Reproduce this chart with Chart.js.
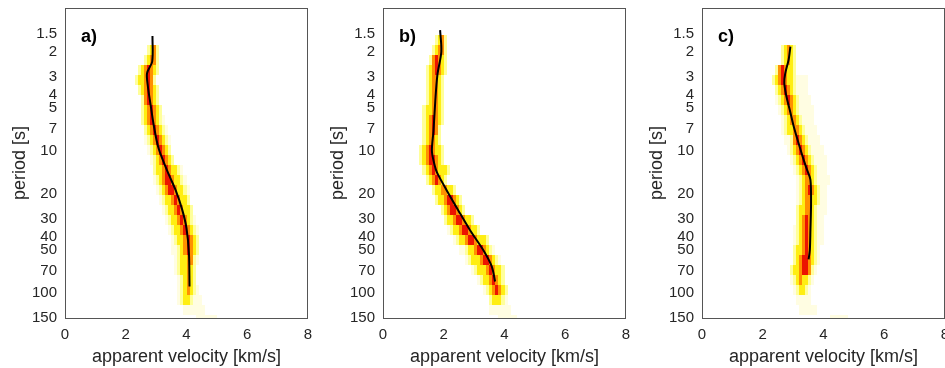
<!DOCTYPE html>
<html><head><meta charset="utf-8">
<script src="https://cdn.jsdelivr.net/npm/chart.js@4.4.0/dist/chart.umd.min.js"></script>
<style>
html,body{margin:0;padding:0;background:#fff;overflow:hidden;width:945px;height:368px;}
.p{position:absolute;top:0;width:318px;height:368px;}
</style></head><body>
<div class="p" style="left:0"><canvas id="ca" width="318" height="368"></canvas></div>
<div class="p" style="left:318px"><canvas id="cb" width="318" height="368"></canvas></div>
<div class="p" style="left:637px"><canvas id="cc" width="318" height="368"></canvas></div>
<script>
const velocityTicks=[0,2,4,6,8];
const periodTicks=[1.5,2,3,4,5,7,10,20,30,40,50,70,100,150];
// period bin edges of the density rows (s)
const rowEdges=[1.52,1.79,2.11,2.48,2.92,3.43,4.03,4.74,5.58,6.56,7.72,9.08,10.7,12.6,14.8,17.4,20.4,24.0,28.2,33.2,39.1,45.9,54.0,63.5,74.7,87.9,103,122,143,150];

// panel a: velocity ranges (km/s) per period row
const haloA=[null,[2.8,3.05],[2.7,3.05],[2.4,3.0],[2.35,2.95],[2.4,3.0],[2.45,3.1],[2.45,3.2],[2.48,3.31],[2.58,3.4],[2.64,3.47],[2.71,3.54],[2.81,3.64],[2.88,3.87],[2.91,3.97],[3.01,4.07],[3.07,4.13],[3.21,4.2],[3.31,4.3],[3.4,4.36],[3.47,4.4],[3.54,4.4],[3.6,4.36],[3.64,4.33],[3.67,4.3],[3.7,4.36],[3.74,4.46],[3.87,4.63],[4.3,4.96]];
const bandA=[null,[2.8,3.0],[2.74,3.0],[2.45,2.95],[2.41,2.92],[2.48,2.98],[2.55,3.04],[2.58,3.14],[2.61,3.14],[2.71,3.21],[2.81,3.31],[2.88,3.4],[2.98,3.54],[3.04,3.67],[3.07,3.8],[3.21,3.87],[3.31,3.97],[3.4,4.07],[3.54,4.13],[3.64,4.23],[3.74,4.26],[3.8,4.26],[3.8,4.23],[3.83,4.23],[3.87,4.2],[3.9,4.17],[3.93,4.13],null,null];
const coreA=[null,[2.9,3.0],[2.8,2.95],[2.55,2.9],[2.55,2.88],[2.58,2.9],[2.64,2.94],[2.68,3.0],[2.74,3.01],[2.81,3.07],[2.91,3.21],[3.01,3.27],[3.07,3.37],[3.21,3.54],[3.21,3.64],[3.31,3.74],[3.47,3.83],[3.57,3.93],[3.7,4.03],[3.8,4.1],[3.9,4.17],[3.93,4.2],[3.97,4.17],[3.97,4.13],[4.0,4.13],[4.0,4.1],null,null,null];
const linePeriodA=[1.55,2.35,2.84,3.52,4.61,6.56,9.56,14.7,18.8,26,35,52.5,90];
const lineVelA=[2.88,2.87,2.70,2.73,2.81,2.92,3.08,3.42,3.64,3.86,4.0,4.08,4.10];

// panel b
const haloB=[[1.8,2.05],[1.7,2.05],[1.5,2.05],[1.4,2.05],[1.4,2.0],[1.4,2.0],[1.4,1.97],[1.37,1.93],[1.37,1.93],[1.34,1.9],[1.3,1.87],[1.27,1.93],[1.27,2.0],[1.37,2.17],[1.47,2.1],[1.6,2.36],[1.7,2.56],[1.85,2.7],[2.0,2.95],[2.1,3.2],[2.3,3.45],[2.5,3.65],[2.7,3.85],[2.9,3.95],[3.1,4.0],[3.3,4.05],[3.45,4.08],[3.52,4.18],[3.76,4.41]];
const bandB=[[1.8,2.0],[1.74,2.0],[1.57,2.0],[1.47,1.97],[1.47,1.93],[1.47,1.93],[1.47,1.9],[1.44,1.87],[1.44,1.87],[1.4,1.83],[1.37,1.8],[1.34,1.87],[1.34,1.93],[1.44,2.1],[1.54,2.03],[1.7,2.26],[1.8,2.46],[1.97,2.63],[2.13,2.86],[2.3,3.09],[2.53,3.36],[2.76,3.52],[2.93,3.69],[3.09,3.85],[3.29,3.92],[3.45,3.95],[3.59,3.85],null,null];
const coreB=[[1.87,1.97],[1.8,1.97],[1.64,1.93],[1.6,1.87],[1.57,1.8],[1.6,1.8],[1.6,1.77],[1.57,1.77],[1.54,1.77],[1.5,1.77],[1.47,1.7],[1.44,1.7],[1.4,1.77],[1.5,1.8],[1.64,1.87],[1.87,2.13],[1.97,2.36],[2.13,2.53],[2.3,2.69],[2.53,2.93],[2.69,3.12],[2.96,3.36],[3.19,3.59],[3.36,3.69],[3.45,3.79],[3.59,3.85],null,null,null];
const linePeriodB=[1.41,2.0,2.92,4.49,7.32,10,12.6,14.2,18.8,26,36,49.8,65,83];
const lineVelB=[1.88,1.92,1.79,1.72,1.66,1.61,1.70,1.78,2.09,2.47,2.86,3.30,3.58,3.69];

// panel c
const haloC=[null,[2.74,3.0],[2.6,3.05],[2.4,3.1],[2.35,3.46],[2.35,3.5],[2.35,3.57],[2.45,3.67],[2.55,3.72],[2.6,3.79],[2.7,3.9],[2.75,4.0],[2.85,4.07],[2.95,4.12],[3.13,4.18],[3.13,4.12],[3.07,4.12],[3.07,4.05],[3.05,4.0],[3.01,4.0],[3.0,3.95],[2.98,3.9],[2.95,3.85],[2.9,3.8],[2.91,3.67],[3.01,3.64],[3.07,3.57],[3.24,3.8],[4.23,4.79]];
const bandC=[null,[2.74,2.98],[2.68,2.98],[2.48,2.98],[2.41,2.98],[2.48,3.01],[2.58,3.07],[2.68,3.14],[2.81,3.24],[2.84,3.31],[2.98,3.4],[3.01,3.5],[3.14,3.57],[3.17,3.67],[3.31,3.74],[3.31,3.8],[3.31,3.8],[3.24,3.74],[3.24,3.74],[3.17,3.74],[3.17,3.74],[3.14,3.67],[3.07,3.67],[3.01,3.64],[3.14,3.5],[3.17,3.4],null,null,null];
const coreC=[null,[2.81,2.94],[2.81,2.94],[2.51,2.84],[2.48,2.78],[2.58,2.91],[2.68,2.98],[2.78,3.01],[2.91,3.14],[2.98,3.17],[3.01,3.31],[3.14,3.4],[3.24,3.47],[3.34,3.57],[3.4,3.64],[3.4,3.67],[3.4,3.64],[3.4,3.64],[3.34,3.64],[3.34,3.64],[3.31,3.64],[3.31,3.57],[3.21,3.64],[3.17,3.57],[3.17,3.34],null,null,null,null];
const linePeriodC=[1.84,2.29,2.84,3.33,4.14,5.15,6.73,8.83,11.6,13.6,16,23.3,36,49.8,57.9];
const lineVelC=[2.91,2.85,2.74,2.71,2.78,2.89,3.02,3.18,3.35,3.46,3.57,3.59,3.57,3.55,3.51];

const TXT='#262626';
const FONT='"Liberation Sans", Arial, Helvetica, sans-serif';

function makeChart(id,label,halo,band,core,lp,lv){
  const heat={id:'heat',beforeDatasetsDraw(chart){
    const {ctx,chartArea:a,scales:{x,y}}=chart;
    ctx.save();ctx.beginPath();ctx.rect(a.left,a.top,a.right-a.left,a.bottom-a.top);ctx.clip();
    // [rows, colour, widen (km/s), shrink (km/s)]
    const layers=[[halo,'#fffde2',0,0],[band,'#ffff9a',0.1,0],[band,'#ffee12',0,0],[core,'#ff9000',0,0],[core,'#ec1400',0,0.1],[core,'#b00000',0,0.2]];
    for(const [rows,col,grow,shrink] of layers){
      ctx.fillStyle=col;
      rows.forEach((r,i)=>{
        if(!r) return;
        let lo=Math.round(r[0]*10)/10;
        let hi=Math.max(Math.round(r[1]*10)/10,lo+0.1);
        lo=lo-grow+shrink; hi=hi+grow-shrink;
        if(hi-lo<0.09) return;
        const x0=Math.round(x.getPixelForValue(lo)),x1=Math.round(x.getPixelForValue(hi));
        const y0=Math.round(y.getPixelForValue(rowEdges[i])),y1=Math.round(y.getPixelForValue(rowEdges[i+1]));
        ctx.fillRect(x0,y0,x1-x0,y1-y0);
      });
    }
    ctx.restore();
  }};
  const frame={id:'frame',afterDraw(chart){
    const {ctx,chartArea:a}=chart;
    ctx.save();
    ctx.strokeStyle='#555';ctx.lineWidth=1;
    ctx.strokeRect(Math.round(a.left)+0.5,Math.round(a.top)+0.5,Math.round(a.right-a.left)-1,Math.round(a.bottom-a.top));
    ctx.fillStyle='#000';ctx.font='bold 18px '+FONT;ctx.textBaseline='alphabetic';ctx.textAlign='left';
    ctx.fillText(label,a.left+16,a.top+34);
    ctx.restore();
  }};
  return new Chart(document.getElementById(id),{
    type:'scatter',
    data:{datasets:[{data:lp.map((p,i)=>({x:lv[i],y:p})),showLine:true,borderColor:'#000',borderWidth:2,pointRadius:0,tension:0.3,fill:false}]},
    options:{
      responsive:false,animation:false,devicePixelRatio:1,
      layout:{padding:{top:8,right:10,left:0,bottom:0}},
      plugins:{legend:{display:false},tooltip:{enabled:false}},
      scales:{
        x:{type:'linear',min:0,max:8,
          afterBuildTicks:s=>{s.ticks=velocityTicks.map(v=>({value:v}));},
          afterFit:s=>{s.height=50;s.paddingLeft=0;s.paddingRight=0;},
          grid:{display:false,drawTicks:false},border:{display:false},
          ticks:{font:{size:15,family:FONT},color:TXT,padding:8,maxRotation:0},
          title:{display:true,text:'apparent velocity [km/s]',font:{size:18,family:FONT},color:TXT,padding:{top:0,bottom:0}}},
        y:{type:'logarithmic',reverse:true,min:0.985,max:150,
          afterBuildTicks:s=>{s.ticks=periodTicks.map(v=>({value:v}));},
          afterFit:s=>{s.width=65;s.paddingTop=0;s.paddingBottom=0;},
          grid:{display:false,drawTicks:false},border:{display:false},
          ticks:{font:{size:15,family:FONT},color:TXT,padding:8,autoSkip:false,callback:v=>String(v)},
          title:{display:true,text:'period [s]',font:{size:18,family:FONT},color:TXT,padding:{top:9,bottom:0}}}
      }
    },
    plugins:[heat,frame]
  });
}
makeChart('ca','a)',haloA,bandA,coreA,linePeriodA,lineVelA);
makeChart('cb','b)',haloB,bandB,coreB,linePeriodB,lineVelB);
makeChart('cc','c)',haloC,bandC,coreC,linePeriodC,lineVelC);
</script></body></html>
